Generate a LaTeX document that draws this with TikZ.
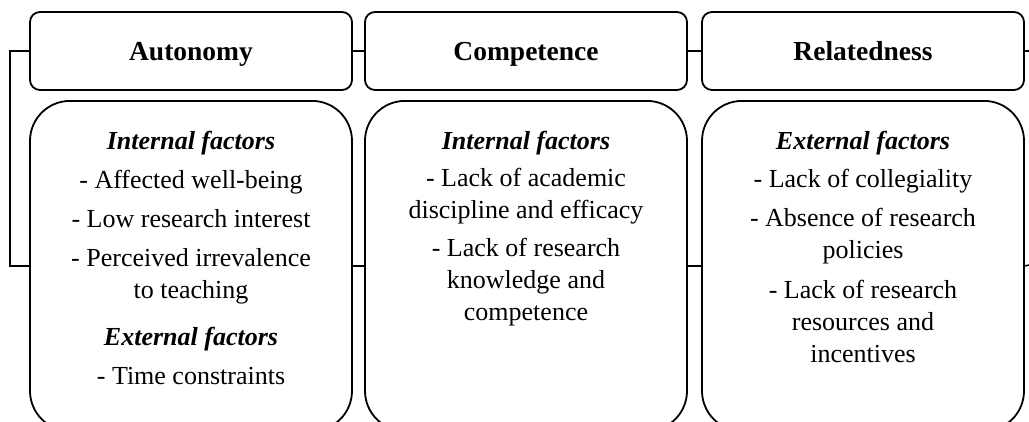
\documentclass[tikz,border=0pt]{standalone}
\usepackage{fontspec}
\setmainfont{Liberation Serif}
\usepackage{tikz}
\usetikzlibrary{positioning}

\begin{document}
\begin{tikzpicture}[x=1pt,y=-1pt,
  headbox/.style={draw, line width=1.8pt, rounded corners=10pt, shape=rectangle,
    minimum width=322pt, minimum height=78pt, inner sep=0pt,
    font=\bfseries\fontsize{27.5}{32}\selectfont, text height=18pt, text depth=0pt},
  factorbox/.style={draw, line width=1.8pt, rounded corners=40pt, shape=rectangle,
    minimum width=322pt, minimum height=330pt, anchor=north},
  factortext/.style={align=center, inner sep=0pt, outer sep=0pt,
    font=\fontsize{26}{32}\selectfont},
  link/.style={line width=1.5pt}]
\useasboundingbox (0,0) rectangle (1029,421);
\clip (0,0) rectangle (1029,421);

% the three needs
\node[headbox] (authead) at (191,51) {Autonomy};
\node[headbox] (comphead) at (526,51) {Competence};
\node[headbox] (relhead) at (863,51) {Relatedness};

\node[factorbox] (autbody) at (191,100) {};
\node[factorbox] (compbody) at (526,100) {};
\node[factorbox] (relbody) at (863,100) {};

% factor lists
\node[factortext, below=31pt of autbody.north] (autlist)
{\textbf{\textit{Internal factors}}\\[7pt]
- Affected well-being\\[7pt]
- Low research interest\\[7pt]
- Perceived irrevalence\\
to teaching\\[15pt]
\textbf{\textit{External factors}}\\[7pt]
- Time constraints};
\node[factortext, below=31pt of compbody.north] (complist)
{\textbf{\textit{Internal factors}}\\[5pt]
- Lack of academic\\
discipline and efficacy\\[6pt]
- Lack of research\\
knowledge and\\
competence};
\node[factortext, below=31pt of relbody.north] (rellist)
{\textbf{\textit{External factors}}\\[6pt]
- Lack of collegiality\\[7pt]
- Absence of research\\
policies\\[8pt]
- Lack of research\\
resources and\\
incentives};

% connectors
\coordinate (headout) at (1029,51);
\coordinate (bodyout) at (1029,265);
\draw[link] (authead.west) -- ++(-19,0) |- (autbody.west);
\draw[link] (authead.east) -- (comphead.west);
\draw[link] (comphead.east) -- (relhead.west);
\draw[link] (autbody.east) -- (compbody.west);
\draw[link] (compbody.east) -- (relbody.west);
\draw[link] (relhead.east) -- (headout);
\draw[link] (relbody.east) -- (bodyout);

\end{tikzpicture}
\end{document}
